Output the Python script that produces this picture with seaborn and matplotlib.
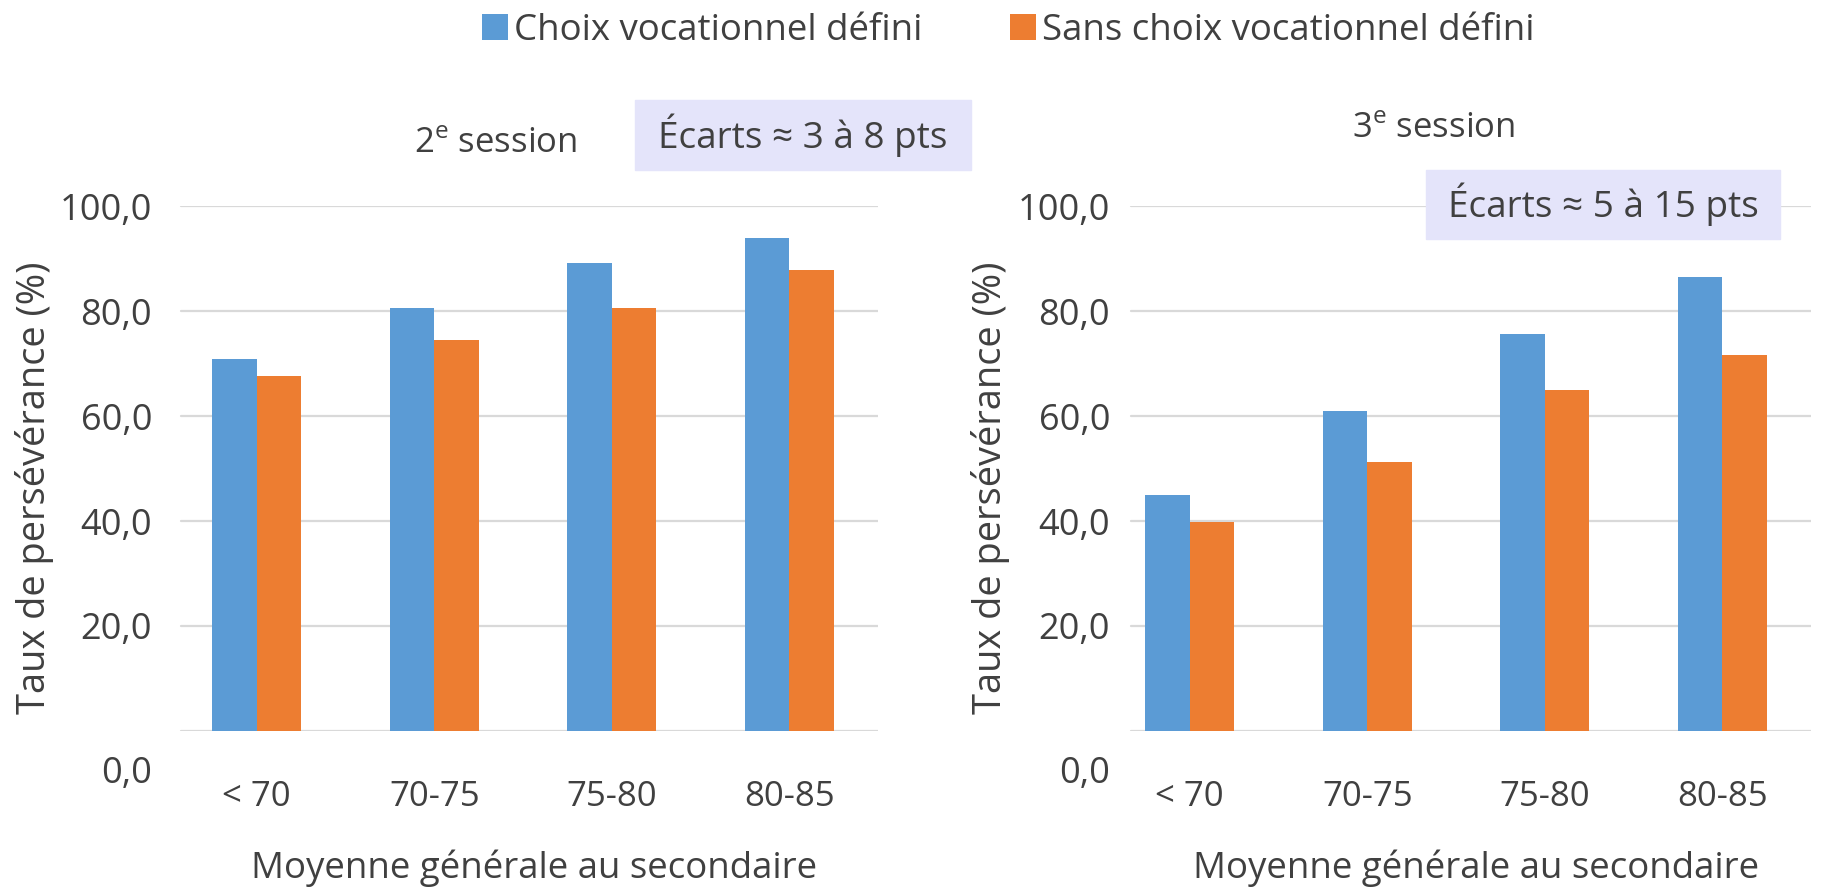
import pandas as pd
import matplotlib.pyplot as plt
import seaborn as sns
from matplotlib.patches import Rectangle
from matplotlib.transforms import ScaledTranslation

# values
categories = ['< 70', '70-75', '75-80', '80-85']
groups = ['Choix vocationnel défini', 'Sans choix vocationnel défini']
session2_defini = [70.8, 80.6, 89.1, 93.9]
session2_sans = [67.7, 74.4, 80.6, 87.8]
session3_defini = [45.0, 61.0, 75.7, 86.4]
session3_sans = [39.8, 51.2, 65.0, 71.7]
y_ticks = [0, 20, 40, 60, 80, 100]
y_tick_labels = ['0,0', '20,0', '40,0', '60,0', '80,0', '100,0']

titles = ['2$^\\mathregular{e}$ session', '3$^\\mathregular{e}$ session']
notes = ['Écarts ≈ 3 à 8 pts', 'Écarts ≈ 5 à 15 pts']
x_title = 'Moyenne générale au secondaire'
y_title = 'Taux de persévérance (%)'

palette = ['#5B9BD5', '#ED7D31']
text_color = '#404040'
grid_color = '#D9D9D9'
box_color = '#E4E4FA'

W, H = 1821, 888


def long_table(defini, sans):
    return pd.DataFrame({
        'moyenne': categories * 2,
        'taux': defini + sans,
        'groupe': [groups[0]] * len(categories) + [groups[1]] * len(categories),
    })


def draw_panel(ax, df, title, title_xy, grid_start, label_x, ylabel_x, tick_pad):
    sns.barplot(data=df, x='moyenne', y='taux', hue='groupe', order=categories,
                hue_order=groups, palette=palette, saturation=1, width=0.5,
                gap=0, linewidth=0, ax=ax)
    ax.set_xlim(-0.5, 3.5)
    ax.set_ylim(0, 100)
    ax.grid(False)
    for v in y_ticks:
        ax.axhline(v, xmin=grid_start, xmax=1, color=grid_color, lw=1.6, zorder=0.5)
    for s in ax.spines.values():
        s.set_visible(False)
    ax.set_yticks(y_ticks)
    ax.set_yticklabels(y_tick_labels)
    ax.tick_params(axis='x', length=0, pad=35, labelsize=25, labelcolor=text_color)
    ax.tick_params(axis='y', length=0, pad=tick_pad, labelsize=26, labelcolor=text_color)
    ax.set_xlabel(x_title, fontsize=26.4, color=text_color)
    ax.set_ylabel(y_title, fontsize=27.4, color=text_color)
    ax.xaxis.set_label_coords(label_x, -0.226)
    ax.yaxis.set_label_coords(ylabel_x, 0.463)
    ax.text(title_xy[0], title_xy[1], title, transform=ax.transAxes,
            ha='center', va='center', fontsize=25, color=text_color)
    # the 0,0 label sits lower than the baseline in the original
    zero = ax.get_yticklabels()[0]
    zero.set_transform(zero.get_transform() + ScaledTranslation(0, -0.38, ax.figure.dpi_scale_trans))


sns.set_theme(style='white')
plt.rcParams['font.family'] = ['Open Sans', 'DejaVu Sans']
plt.rcParams['mathtext.fontset'] = 'custom'
plt.rcParams['mathtext.rm'] = 'Open Sans'

fig = plt.figure(figsize=(W / 100, H / 100), dpi=100)
bottom = 1 - 731 / H
height = (731 - 206) / H
ax1 = fig.add_axes([168 / W, bottom, 710 / W, height])
ax2 = fig.add_axes([1101 / W, bottom, 710 / W, height])

draw_panel(ax1, long_table(session2_defini, session2_sans), titles[0],
           (0.462, 1.119), 0.019, 0.515, -0.161, 11.5)
draw_panel(ax2, long_table(session3_defini, session3_sans), titles[1],
           (0.468, 1.146), 0.042, 0.528, -0.128, -6.5)

handles, labels = ax1.get_legend_handles_labels()
ax1.get_legend().remove()
ax2.get_legend().remove()
fig.legend(handles, labels, loc='center', bbox_to_anchor=(1008 / W, 1 - 31 / H),
           ncol=2, frameon=False, fontsize=26.4, handlelength=0.72, handleheight=0.72,
           handletextpad=0.15, columnspacing=2.4, labelcolor=text_color)

# shaded notes
for (x0, y0, x1, y1), note in zip([(635, 100, 971, 170), (1426, 170, 1780, 239)], notes):
    fig.patches.append(Rectangle((x0 / W, 1 - y1 / H), (x1 - x0) / W, (y1 - y0) / H,
                                 transform=fig.transFigure, color=box_color, zorder=1))
    fig.text((x0 + x1) / 2 / W, 1 - (y0 + y1) / 2 / H, note, ha='center', va='center',
             fontsize=26.6, color=text_color, zorder=3)

fig.savefig('out.png', dpi=100)
